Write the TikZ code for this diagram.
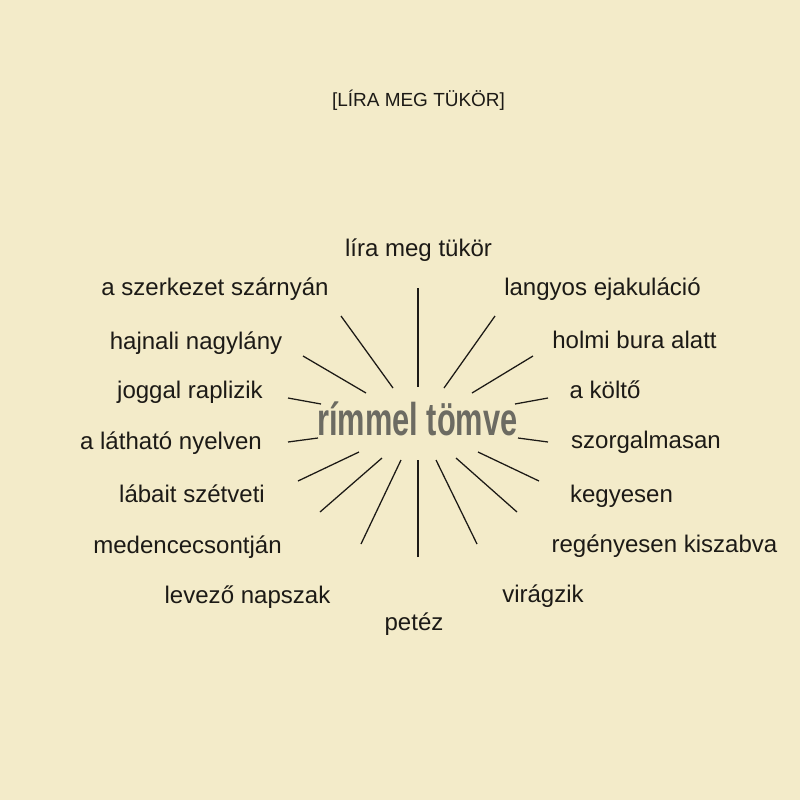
\documentclass[tikz,border=0pt]{standalone}
\usepackage{fontspec}
\setmainfont{Liberation Sans}
\usetikzlibrary{positioning}

\definecolor{paper}{RGB}{243,235,201}
\definecolor{ink}{RGB}{28,26,22}
\definecolor{rimgray}{RGB}{108,107,98}

\begin{document}
\begin{tikzpicture}[%
  x=0.25mm, y=-0.25mm,
  word/.style={anchor=base, inner sep=0pt, text=ink, font=\fontsize{17.1}{20}\selectfont},
  spoke/.style={draw=ink, line width=0.9pt},
]

  \fill[paper] (0,0) rectangle (800,800);
  \useasboundingbox (0,0) rectangle (800,800);

  \node[word, font=\fontsize{13.5}{16}\selectfont] (title) at (418.5,106) {[LÍRA MEG TÜKÖR]};

  \node[anchor=base, inner sep=0pt, text=rimgray, xscale=0.67,
    font=\fontsize{32.7}{36}\selectfont\bfseries] (rimmel) at (417.5,435) {rímmel tömve};

  \node[word] (lira) at (418.5,256) {líra meg tükör};

  \node[word] (szerkezet) at (215,295) {a szerkezet szárnyán};
  \node[word] (hajnali) at (196,349) {hajnali nagylány};
  \node[word] (joggal) at (190,398) {joggal raplizik};
  \node[word] (lathato) at (171,449) {a látható nyelven};
  \node[word] (labait) at (192,502) {lábait szétveti};
  \node[word] (medence) at (187.5,553) {medencecsontján};
  \node[word] (levezo) at (247.5,603) {levező napszak};

  \node[word] (petez) at (414,630) {petéz};

  \node[word] (langyos) at (602.5,295) {langyos ejakuláció};
  \node[word] (holmi) at (634.5,348) {holmi bura alatt};
  \node[word] (kolto) at (605,398) {a költő};
  \node[word] (szorgalmas) at (646,448) {szorgalmasan};
  \node[word] (kegyesen) at (621.5,502) {kegyesen};
  \node[word] (regenyes) at (664.5,552) {regényesen kiszabva};
  \node[word] (viragzik) at (543,602) {virágzik};

  \coordinate (o0) at (418,288);  \coordinate (i0) at (418,387);
  \coordinate (o1) at (341,316);  \coordinate (i1) at (393,388);
  \coordinate (o2) at (495,316);  \coordinate (i2) at (444,388);
  \coordinate (o3) at (303,356);  \coordinate (i3) at (366,393);
  \coordinate (o4) at (533,356);  \coordinate (i4) at (472,393);
  \coordinate (o5) at (288,398);  \coordinate (i5) at (321,404);
  \coordinate (o6) at (548,398);  \coordinate (i6) at (515,404);
  \coordinate (o7) at (288,442);  \coordinate (i7) at (318,438);
  \coordinate (o8) at (548,442);  \coordinate (i8) at (518,438);
  \coordinate (o9) at (298,481);  \coordinate (i9) at (359,452);
  \coordinate (o10) at (539,481); \coordinate (i10) at (478,452);
  \coordinate (o11) at (320,512); \coordinate (i11) at (382,458);
  \coordinate (o12) at (517,512); \coordinate (i12) at (456,458);
  \coordinate (o13) at (361,544); \coordinate (i13) at (401,460);
  \coordinate (o14) at (477,544); \coordinate (i14) at (436,460);
  \coordinate (o15) at (418,557); \coordinate (i15) at (418,460);

  \foreach \k in {0,...,15}
    \draw[spoke] (o\k) -- (i\k);

\end{tikzpicture}
\end{document}
